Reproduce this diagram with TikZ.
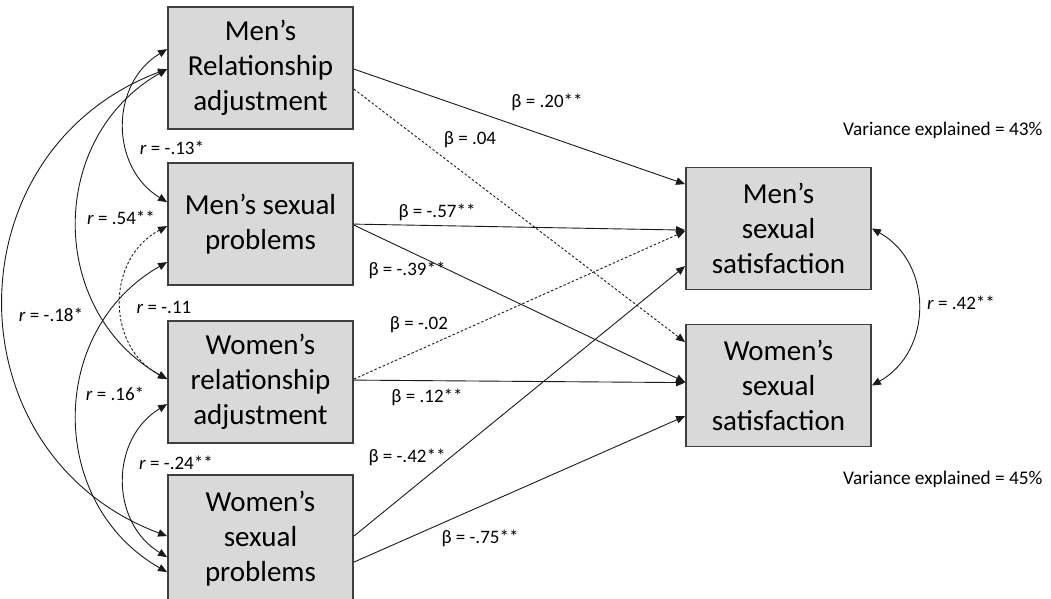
\documentclass[tikz,border=0pt]{standalone}
\usepackage{fontspec}
\setmainfont{Carlito}
\usetikzlibrary{arrows.meta,calc}
\definecolor{boxfill}{HTML}{D9D9D9}
\definecolor{boxline}{HTML}{3F3F3F}
\definecolor{lineclr}{HTML}{1A1A1A}
\begin{document}
\begin{tikzpicture}[x=1pt,y=-1pt,
  box/.style={draw=boxline, line width=1.8pt, fill=boxfill, minimum width=185pt, minimum height=122pt, inner sep=0pt, align=center, font=\fontsize{29}{35}\selectfont},
  conn/.style={line width=0.9pt, draw=lineclr, -{Triangle[length=9pt,width=7.5pt]}},
  corr/.style={line width=0.9pt, draw=lineclr, {Triangle[length=9pt,width=7.5pt]}-{Triangle[length=9pt,width=7.5pt]}},
  dsh/.style={dash pattern=on 2.5pt off 2pt},
  lbl/.style={font=\fontsize{19}{22}\selectfont, inner sep=0pt, text=black},
  vlbl/.style={font=\fontsize{19.3}{22}\selectfont, inner sep=0pt, text=black, anchor=west}
]
\useasboundingbox (0,0) rectangle (1051,599);
\clip (0,0) rectangle (1051,599);

% boxes
\node[box] (MRA) at (260.5,68) {Men’s\\Relationship\\adjustment};
\node[box] (MSP) at (260.5,224) {Men’s sexual\\problems};
\node[box] (WRA) at (260.5,382) {Women’s\\relationship\\adjustment};
\node[box, minimum height=128pt] (WSP) at (260.5,539) {Women’s\\sexual\\problems};
\node[box] (MSS) at (778.5,228.5) {Men’s\\sexual\\satisfaction};
\node[box] (WSS) at (778.5,385.5) {Women’s\\sexual\\satisfaction};

% regression paths
\draw[conn] ($(MRA.north east)+(0,63)$) -- ($(MSS.north west)+(0,17.5)$);
\draw[conn,dsh] ($(MRA.north east)+(0,83)$) -- ($(WSS.north west)+(0,18.5)$);
\draw[conn] ($(MSP.north east)+(0,62)$) -- ($(MSS.north west)+(0,63.5)$);
\draw[conn] ($(MSP.north east)+(0,63)$) -- ($(WSS.north west)+(0,58.5)$);
\draw[conn,dsh] ($(WRA.north east)+(0,59)$) -- ($(MSS.north west)+(0,64.5)$);
\draw[conn] ($(WRA.north east)+(0,60)$) -- ($(WSS.north west)+(0,59)$);
\draw[conn] ($(WSP.north east)+(0,62)$) -- ($(MSS.north west)+(0,99.5)$);
\draw[conn] ($(WSP.north east)+(0,88)$) -- ($(WSS.north west)+(0,92.5)$);

% correlations among predictors
\draw[corr] ($(MRA.north west)+(0,43)$) .. controls ($(MRA.north west)+(-57.3,77.9)$) and ($(MSP.north west)+(-57.3,5.1)$) .. ($(MSP.north west)+(0,40)$);
\draw[corr] ($(MRA.north west)+(0,63)$) .. controls ($(MRA.north west)+(-120,131.5)$) and ($(WRA.north west)+(-120,-9.5)$) .. ($(WRA.north west)+(0,59)$);
\draw[corr] ($(MRA.north west)+(0,63)$) .. controls ($(MRA.north west)+(-218,144.7)$) and ($(WSP.north west)+(-218,-19.7)$) .. ($(WSP.north west)+(0,62)$);
\draw[corr,dsh] ($(MSP.north west)+(0,64)$) .. controls ($(MSP.north west)+(-61.3,96.5)$) and ($(WRA.north west)+(-61.3,26.5)$) .. ($(WRA.north west)+(0,59)$);
\draw[corr] ($(MSP.north west)+(0,100)$) .. controls ($(MSP.north west)+(-120,168.5)$) and ($(WSP.north west)+(-120,29.5)$) .. ($(WSP.north west)+(0,98)$);
\draw[corr] ($(WRA.north west)+(0,84)$) .. controls ($(WRA.north west)+(-57.3,118.9)$) and ($(WSP.north west)+(-57.3,48.1)$) .. ($(WSP.north west)+(0,83)$);

% correlation between outcomes
\draw[corr] (MSS.east) .. controls ($(MSS.east)+(61.3,34.3)$) and ($(WSS.east)+(61.3,-34.3)$) .. (WSS.east);

% beta labels
\node[lbl] (b1) at (547,102) {β = .20**};
\node[lbl] (b2) at (470,140) {β = .04};
\node[lbl] (b3) at (437,212) {β = -.57**};
\node[lbl] (b4) at (407,270) {β = -.39**};
\node[lbl] (b5) at (419,325) {β = -.02};
\node[lbl] (b6) at (427,397) {β = .12**};
\node[lbl] (b7) at (407,457) {β = -.42**};
\node[lbl] (b8) at (480,538) {β = -.75**};

% r labels
\node[lbl] (r1) at (172,148) {\textit{r} = -.13*};
\node[lbl] (r2) at (121,218) {\textit{r} = .54**};
\node[lbl] (r3) at (164,307) {\textit{r} = -.11};
\node[lbl] (r4) at (51,315) {\textit{r} = -.18*};
\node[lbl] (r5) at (115,394) {\textit{r} = .16*};
\node[lbl] (r6) at (176,463) {\textit{r} = -.24**};
\node[lbl] (r7) at (961,303) {\textit{r} = .42**};

% variance explained
\node[vlbl] (v1) at (843,130) {Variance explained = 43\%};
\node[vlbl] (v2) at (843,479) {Variance explained = 45\%};
\end{tikzpicture}
\end{document}
